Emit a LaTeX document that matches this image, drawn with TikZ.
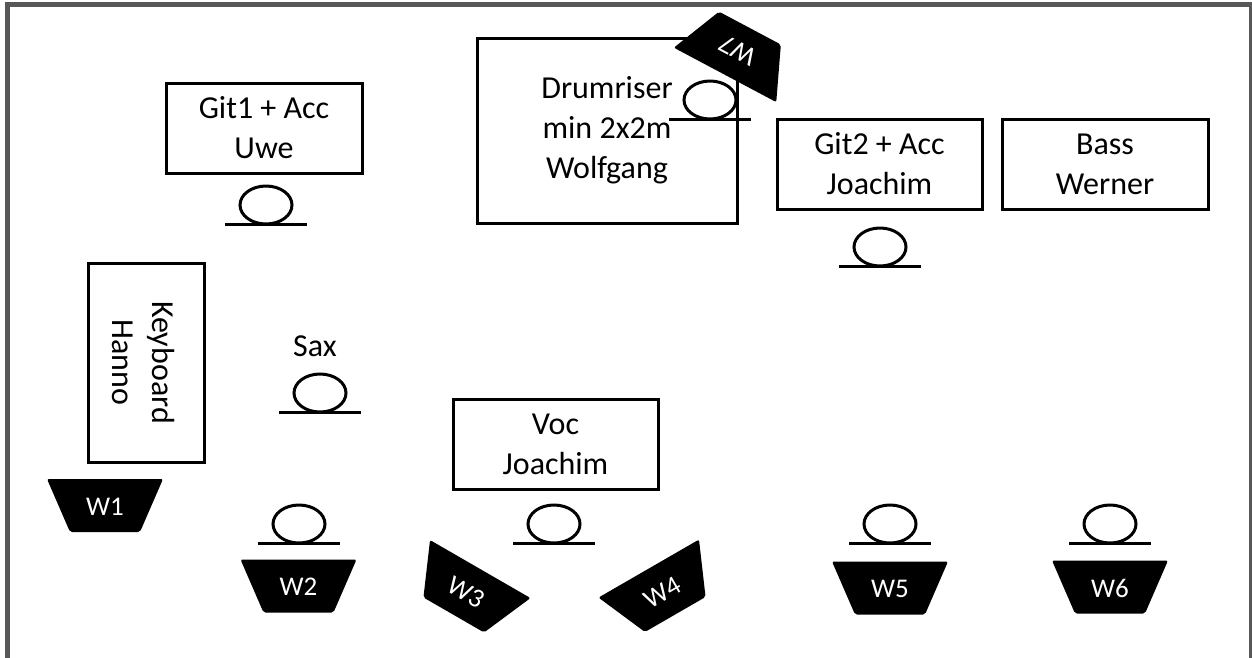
\documentclass[tikz,border=0pt]{standalone}
\usepackage{fontspec}
\setmainfont{Carlito}
\definecolor{framegrey}{RGB}{88,88,88}
\tikzset{
  box/.style={draw, line width=3pt, font=\fontsize{32}{40}\selectfont, align=center, inner sep=0pt},
  plainlabel/.style={font=\fontsize{32}{40}\selectfont, inner sep=0pt},
  wedgelabel/.style={text=white, font=\fontsize{27}{30}\selectfont, inner sep=0pt, transform shape},
  frameline/.style={draw=framegrey, line width=5pt},
  micstroke/.style={line width=3pt},
  mic/.pic={
    \draw[micstroke] (0,-19) ellipse [x radius=26, y radius=19];
    \draw[micstroke] (-41,0) -- (41,0);
  },
  wedge/.pic={
    \fill[rounded corners=2pt] (-58,-26.5) -- (58,-26.5) -- (35,26.5) -- (-35,26.5) -- cycle;
    \node[wedgelabel] (-t) at (0,1) {#1};
  }
}
\begin{document}
\begin{tikzpicture}[x=1pt, y=-1pt]
\useasboundingbox (0,0) rectangle (1252,657);
\fill[white] (0,0) rectangle (1252,657);
% frame
\draw[frameline] (7.5,680) -- (7.5,4.5) -- (1251,4.5) -- (1251,680);

% boxes
\node[box, minimum width=196pt, minimum height=90pt] (git1) at (264,128) {Git1 + Acc\\Uwe};
\node[box, minimum width=260pt, minimum height=185pt] (drum) at (607,130.5) {Drumriser\\min 2x2m\\Wolfgang};
\node[box, minimum width=205pt, minimum height=90pt] (git2) at (879.5,164) {Git2 + Acc\\Joachim};
\node[box, minimum width=206pt, minimum height=90pt] (bass) at (1105,164) {Bass\\Werner};
\node[box, minimum width=116pt, minimum height=199pt] (keys) at (146,362.5) {};
\node[plainlabel, align=center, rotate=-90] (keystext) at (143,362.5) {Keyboard\\Hanno};
\node[box, minimum width=205pt, minimum height=90pt] (voc) at (555.5,444) {Voc\\Joachim};
\node[plainlabel] (sax) at (315,346) {Sax};

% microphones
\pic (m1) at (266,224) {mic};
\pic (m2) at (710,119) {mic};
\pic (m3) at (880,266) {mic};
\pic (m4) at (320,412) {mic};
\pic (m5) at (299,543) {mic};
\pic (m6) at (554,543) {mic};
\pic (m7) at (890,543) {mic};
\pic (m8) at (1110,543) {mic};

% wedges (monitors)
\pic (w1) at (105,505.5) {wedge=W1};
\pic (w2) at (298.5,586) {wedge=W2};
\pic[rotate=-30] (w3) at (467,592) {wedge=W3};
\pic[rotate=30] (w4) at (662,591.5) {wedge=W4};
\pic (w5) at (890,588) {wedge=W5};
\pic (w6) at (1110,587) {wedge=W6};
\pic[rotate=152] (w7) at (737.5,51.5) {wedge=W7};
\end{tikzpicture}
\end{document}
